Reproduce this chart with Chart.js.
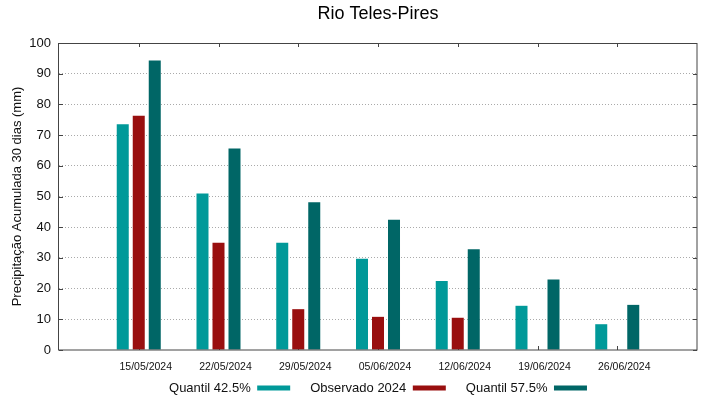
<!DOCTYPE html>
<html>
<head>
<meta charset="utf-8">
<script src="https://cdn.jsdelivr.net/npm/chart.js@4/dist/chart.umd.min.js"></script>
<style>
  html, body { margin: 0; padding: 0; background: #fff; }
  #wrap { width: 719px; height: 399px; position: relative; }
</style>
</head>
<body>
<div id="wrap"><canvas id="c"></canvas></div>
<script>
const chartTitle = 'Rio Teles-Pires';
const yAxisTitle = 'Precipitação Acumulada 30 dias (mm)';
const dateLabels = ['15/05/2024', '22/05/2024', '29/05/2024', '05/06/2024', '12/06/2024', '19/06/2024', '26/06/2024'];
const quantil425 = [73.5, 51.0, 34.9, 29.7, 22.5, 14.4, 8.4];
const observado2024 = [76.3, 34.9, 13.3, 10.8, 10.5, null, null];
const quantil575 = [94.3, 65.6, 48.1, 42.4, 32.8, 23.0, 14.7];
const seriesNames = ['Quantil 42.5%', 'Observado 2024', 'Quantil 57.5%'];
const seriesColors = ['#009999', '#990f0f', '#006666'];

// empty slots at each end so the categories sit inside the frame like the original
const pad = arr => [null, ...arr, null];
const labels = ['', ...dateLabels, ''];

const FONT = "'Liberation Sans', Arial, sans-serif";
Chart.defaults.font.family = FONT;
Chart.defaults.color = '#111';

const frameTicks = {
  id: 'frameTicks',
  beforeDatasetsDraw(chart) {
    const { ctx, chartArea: a, scales: { x, y } } = chart;
    ctx.save();
    ctx.strokeStyle = '#444';
    ctx.lineWidth = 1;
    ctx.beginPath();
    y.ticks.forEach((t, i) => {
      const py = Math.round(y.getPixelForTick(i)) + 0.5;
      ctx.moveTo(a.left, py); ctx.lineTo(a.left + 4, py);
      ctx.moveTo(a.right - 4, py); ctx.lineTo(a.right, py);
    });
    x.ticks.forEach((t, i) => {
      if (!x.getLabelForValue(t.value)) return;
      const px = Math.round(x.getPixelForTick(i)) + 0.5;
      ctx.moveTo(px, a.top); ctx.lineTo(px, a.top + 4);
      ctx.moveTo(px, a.bottom - 4); ctx.lineTo(px, a.bottom);
    });
    ctx.stroke();
    ctx.restore();
  },
  afterDatasetsDraw(chart) {
    const { ctx, chartArea: a } = chart;
    ctx.save();
    ctx.strokeStyle = '#444';
    ctx.lineWidth = 1;
    ctx.strokeRect(Math.round(a.left) - 0.5, Math.round(a.top) + 0.5,
                   Math.round(a.right - a.left) + 0.5, Math.round(a.bottom - a.top) - 0.5);
    ctx.restore();
  }
};

new Chart(document.getElementById('c'), {
  type: 'bar',
  data: {
    labels: labels,
    datasets: [
      { label: seriesNames[0], data: pad(quantil425), backgroundColor: seriesColors[0], borderWidth: 0 },
      { label: seriesNames[1], data: pad(observado2024), backgroundColor: seriesColors[1], borderWidth: 0 },
      { label: seriesNames[2], data: pad(quantil575), backgroundColor: seriesColors[2], borderWidth: 0 }
    ]
  },
  options: {
    responsive: true,
    maintainAspectRatio: false,
    animation: false,
    categoryPercentage: 0.602,
    barPercentage: 0.75,
    layout: { padding: { left: 0, right: 22, top: 0, bottom: -5.5 } },
    scales: {
      x: {
        offset: false,
        grid: { display: false, drawTicks: false },
        border: { display: false },
        ticks: {
          autoSkip: false, maxRotation: 0, mirror: true, padding: -23.8, labelOffset: 7,
          font: { size: 10.5 }, color: '#111'
        },
        afterFit: s => { s.height = 11.5; }
      },
      y: {
        min: 0, max: 100,
        grid: {
          drawTicks: false,
          color: c => (c.tick && (c.tick.value === 0 || c.tick.value === 100)) ? 'rgba(0,0,0,0)' : '#aaaaaa',
          lineWidth: 1
        },
        border: { display: false, dash: [1, 2] },
        ticks: { stepSize: 10, padding: 8, font: { size: 13 }, color: '#111' },
        title: { display: true, text: yAxisTitle, font: { size: 13 }, color: '#111', padding: { top: 10, bottom: 0 } },
        afterFit: s => { s.width = 59; }
      }
    },
    plugins: {
      title: {
        display: true, text: chartTitle, fullSize: false,
        font: { size: 18, weight: 'normal' }, color: '#000',
        padding: { top: 3, bottom: 18.4 }
      },
      legend: {
        position: 'bottom', fullSize: false, rtl: true, reverse: true, textDirection: 'ltr',
        labels: { boxWidth: 33, boxHeight: 5, padding: 20, font: { size: 13 }, color: '#111' }
      },
      tooltip: { enabled: false }
    }
  },
  plugins: [frameTicks]
});
</script>
</body>
</html>
